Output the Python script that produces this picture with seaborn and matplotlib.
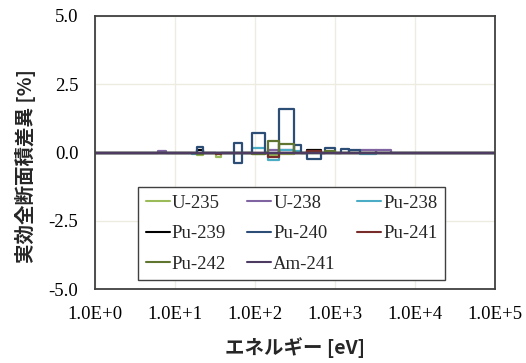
import numpy as np
import pandas as pd
import matplotlib
matplotlib.use("Agg")
import matplotlib.pyplot as plt
import seaborn as sns
from matplotlib.ticker import FixedLocator, NullLocator

# ---------------- data ----------------
series_names = ["U-235", "U-238", "Pu-238", "Pu-239", "Pu-240", "Pu-241", "Pu-242", "Am-241"]
series_colors = ["#9BBB59", "#8064A2", "#4BACC6", "#000000", "#2C4D75", "#772C2A", "#5F7530", "#4D3B62"]

# energy groups (eV): lower / upper bounds
group_ids = ["A", "B", "C", "D", "E", "F", "G", "H", "I", "J", "K", "L", "M", "N", "O"]
group_lo = [6.2, 16.3, 19.1, 33.0, 54.0, 91.0, 147.0, 200.0, 308.0, 445.0, 740.0, 1200.0, 1480.0, 2050.0, 3300.0]
group_hi = [7.7, 19.1, 22.5, 38.0, 68.0, 135.0, 200.0, 308.0, 372.0, 670.0, 1000.0, 1480.0, 2050.0, 3300.0, 5000.0]

# difference of effective total cross section [%] per group
u235_groups = ["C", "D", "F", "G", "H"]
u235_vals = [-0.10, -0.15, -0.05, -0.08, -0.07]
u238_groups = ["A", "G", "H", "N", "O"]
u238_vals = [0.05, 0.10, 0.10, 0.10, 0.10]
pu238_groups = ["B", "F", "G", "H", "I", "N"]
pu238_vals = [-0.07, 0.15, -0.27, 0.09, 0.05, -0.07]
pu239_groups = ["C", "J"]
pu239_vals = [0.09, 0.09]
pu240_groups = ["C", "E", "E", "F", "H", "I", "J", "K", "L", "M"]
pu240_vals = [0.21, 0.35, -0.39, 0.70, 1.58, 0.26, -0.22, 0.15, 0.12, 0.10]
pu241_groups = ["D", "G", "J"]
pu241_vals = [-0.07, -0.15, 0.05]
pu242_groups = ["C", "F", "G", "H", "K"]
pu242_vals = [-0.05, -0.07, 0.42, 0.30, 0.05]
am241_groups = []
am241_vals = []

x_ticks = [1.0, 10.0, 100.0, 1000.0, 10000.0, 100000.0]
x_ticklabels = ["1.0E+0", "1.0E+1", "1.0E+2", "1.0E+3", "1.0E+4", "1.0E+5"]
y_ticks = [-5.0, -2.5, 0.0, 2.5, 5.0]
y_ticklabels = ["-5.0", "-2.5", "0.0", "2.5", "5.0"]

series_data = {
    "U-235": (u235_groups, u235_vals),
    "U-238": (u238_groups, u238_vals),
    "Pu-238": (pu238_groups, pu238_vals),
    "Pu-239": (pu239_groups, pu239_vals),
    "Pu-240": (pu240_groups, pu240_vals),
    "Pu-241": (pu241_groups, pu241_vals),
    "Pu-242": (pu242_groups, pu242_vals),
    "Am-241": (am241_groups, am241_vals),
}

# build step-shaped paths
lo_map = dict(zip(group_ids, group_lo))
hi_map = dict(zip(group_ids, group_hi))
rows = []
for name in series_names:
    gs, vs = series_data[name]
    pts = [(x_ticks[0], 0.0)]
    for g, v in zip(gs, vs):
        lo, hi = lo_map[g], hi_map[g]
        pts += [(lo, 0.0), (lo, v), (hi, v), (hi, 0.0)]
    pts.append((x_ticks[-1], 0.0))
    for i, (x, y) in enumerate(pts):
        rows.append({"series": name, "order": i, "E": x, "diff": y})
df = pd.DataFrame(rows)

# ---------------- plot ----------------
sns.set_theme(style="white")
plt.rcParams["font.family"] = ["Liberation Serif", "DejaVu Serif"]

fig = plt.figure(figsize=(5.26, 3.63), dpi=100)
ax = fig.add_axes([95 / 526, 1 - 289 / 363, 400 / 526, 273 / 363])

palette = dict(zip(series_names, series_colors))
sns.lineplot(data=df, x="E", y="diff", hue="series", hue_order=series_names,
             palette=palette, sort=False, estimator=None, linewidth=1.6,
             ax=ax, legend=True)

ax.set_xscale("log")
ax.set_xlim(x_ticks[0], x_ticks[-1])
ax.set_ylim(y_ticks[0], y_ticks[-1])
ax.xaxis.set_major_locator(FixedLocator(x_ticks))
ax.xaxis.set_minor_locator(NullLocator())
ax.set_xticklabels(x_ticklabels)
ax.set_yticks(y_ticks)
ax.set_yticklabels(y_ticklabels)
ax.tick_params(axis="both", length=0, labelsize=13.5, colors="#000000")
ax.tick_params(axis="x", pad=12)
ax.tick_params(axis="y", pad=12)

ax.grid(True, color="#EEECE1", linewidth=1.0)
ax.set_axisbelow(True)
for s in ax.spines.values():
    s.set_visible(True)
    s.set_color("#404040")
    s.set_linewidth(1.3)

lab_font = ["Noto Sans CJK JP", "DejaVu Sans"]
ax.set_xlabel("エネルギー [eV]", fontsize=14, fontweight="bold", family=lab_font)
ax.set_ylabel("実効全断面積差異 [%]", fontsize=14, fontweight="bold", family=lab_font)
ax.xaxis.set_label_coords(0.5, -0.175)
ax.yaxis.set_label_coords(-0.148, 0.452)

# legend in row-major order (matplotlib fills column-wise)
handles, labels = ax.get_legend_handles_labels()
hmap = dict(zip(labels, handles))
ncol = 3
nrow = int(np.ceil(len(series_names) / ncol))
col_major = []
for c in range(ncol):
    for r in range(nrow):
        idx = r * ncol + c
        if idx < len(series_names):
            col_major.append(series_names[idx])
leg = ax.legend([hmap[n] for n in col_major], col_major, ncol=ncol,
                loc="upper left", bbox_to_anchor=((138 - 95) / 400, (289 - 187) / 273),
                frameon=True, fancybox=False, edgecolor="#404040", framealpha=1.0,
                fontsize=13.5, handlelength=1.3, handletextpad=0.1,
                columnspacing=1.12, labelspacing=0.72, borderpad=0.4, borderaxespad=0)
leg.get_frame().set_linewidth(1.0)
for h in leg.get_lines():
    h.set_linewidth(1.5)

fig.savefig("out.png", dpi=100, facecolor="white")
